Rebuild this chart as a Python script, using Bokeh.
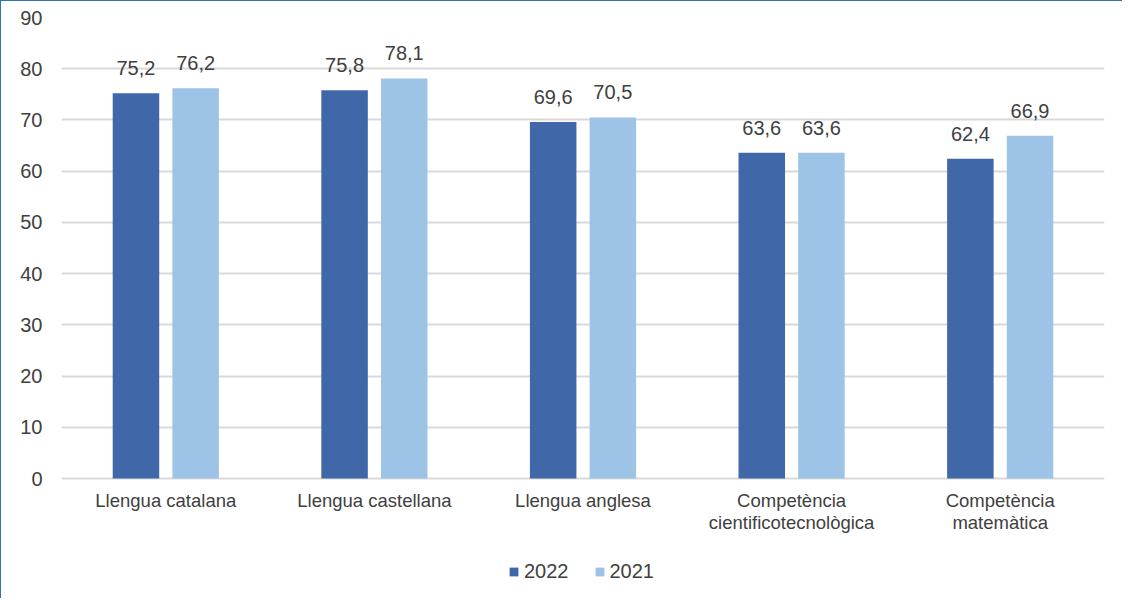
from bokeh.plotting import figure
from bokeh.models import ColumnDataSource, LabelSet, Legend, LegendItem, FixedTicker, Range1d
from bokeh.core.properties import value
from bokeh.transform import dodge
from bokeh.embed import file_html
from bokeh.resources import INLINE

categories = ["Llengua catalana", "Llengua castellana", "Llengua anglesa",
              "Competència\ncientificotecnològica", "Competència\nmatemàtica"]
values_2022 = [75.2, 75.8, 69.6, 63.6, 62.4]
values_2021 = [76.2, 78.1, 70.5, 63.6, 66.9]
labels_2022 = ["75,2", "75,8", "69,6", "63,6", "62,4"]
labels_2021 = ["76,2", "78,1", "70,5", "63,6", "66,9"]
series_names = ["2022", "2021"]
y_ticks = [0, 10, 20, 30, 40, 50, 60, 70, 80, 90]

FONT = "Liberation Sans"
TXT = "#404040"
DARK = "#4068A8"
LIGHT = "#9DC3E6"

W, H = 1122, 598
TOP, BOTTOM, LEFT, RIGHT = 16, 5, 60, 19
AXIS_PX = 461  # pixels spanned by 0..90
frame_h = H - TOP - BOTTOM
y_max = 90
y_min = -(frame_h - AXIS_PX) * y_max / AXIS_PX

line1 = [c.split("\n")[0] for c in categories]
line2 = [c.split("\n")[1] if "\n" in c else "" for c in categories]

src = ColumnDataSource(dict(cat=categories, v22=values_2022, v21=values_2021,
                            l22=labels_2022, l21=labels_2021,
                            line1=line1, line2=line2))

p = figure(x_range=categories, y_range=Range1d(y_min, y_max), width=W, height=H,
           output_backend="svg", toolbar_location=None,
           min_border_left=LEFT, min_border_top=TOP, min_border_right=RIGHT,
           min_border_bottom=BOTTOM)
p.styles = {"border-top": "1px solid #2E75B6", "border-left": "1px solid #2E75B6"}
p.outline_line_color = None

r1 = p.vbar(x=dodge("cat", -0.143, range=p.x_range), top="v22", bottom=0, width=0.223,
            source=src, fill_color=DARK, line_color=None)
r2 = p.vbar(x=dodge("cat", 0.143, range=p.x_range), top="v21", bottom=0, width=0.223,
            source=src, fill_color=LIGHT, line_color=None)

for col, lab, off in [("v22", "l22", -0.143), ("v21", "l21", 0.143)]:
    ls = LabelSet(x=dodge("cat", off, range=p.x_range), y=col, text=lab, source=src,
                  text_align="center", text_baseline="alphabetic", y_offset=18,
                  text_font=value(FONT), text_font_size="20px", text_color=TXT)
    p.add_layout(ls)

# category labels under the zero line (each line centred)
for field, yoff in [("line1", -11), ("line2", -33)]:
    cl = LabelSet(x="cat", y=0, text=field, source=src, text_align="center",
                  text_baseline="top", y_offset=yoff, text_font=value(FONT),
                  text_font_size="18.5px", text_color=TXT)
    p.add_layout(cl)

p.yaxis.ticker = FixedTicker(ticks=y_ticks)
p.yaxis.axis_line_color = None
p.yaxis.major_tick_line_color = None
p.yaxis.minor_tick_line_color = None
p.yaxis.major_tick_out = 0
p.yaxis.major_tick_in = 0
p.yaxis.minor_tick_out = 0
p.yaxis.major_label_text_font = FONT
p.yaxis.major_label_text_font_size = "20px"
p.yaxis.major_label_text_color = TXT
p.yaxis.major_label_standoff = 19

p.xaxis.visible = False
p.xgrid.grid_line_color = None
p.ygrid.ticker = FixedTicker(ticks=y_ticks)
p.ygrid.grid_line_color = "#D9D9D9"
p.ygrid.grid_line_width = 2

legend = Legend(items=[LegendItem(label=series_names[0], renderers=[r1]),
                       LegendItem(label=series_names[1], renderers=[r2])],
                orientation="horizontal", location=(447, 11),
                label_text_font=FONT, label_text_font_size="20px",
                label_text_color=TXT, glyph_width=11, glyph_height=11,
                label_standoff=5, spacing=25, border_line_color=None,
                background_fill_alpha=0, margin=0, padding=2)
p.add_layout(legend, "center")

open("out.html", "w").write(file_html(p, INLINE))
